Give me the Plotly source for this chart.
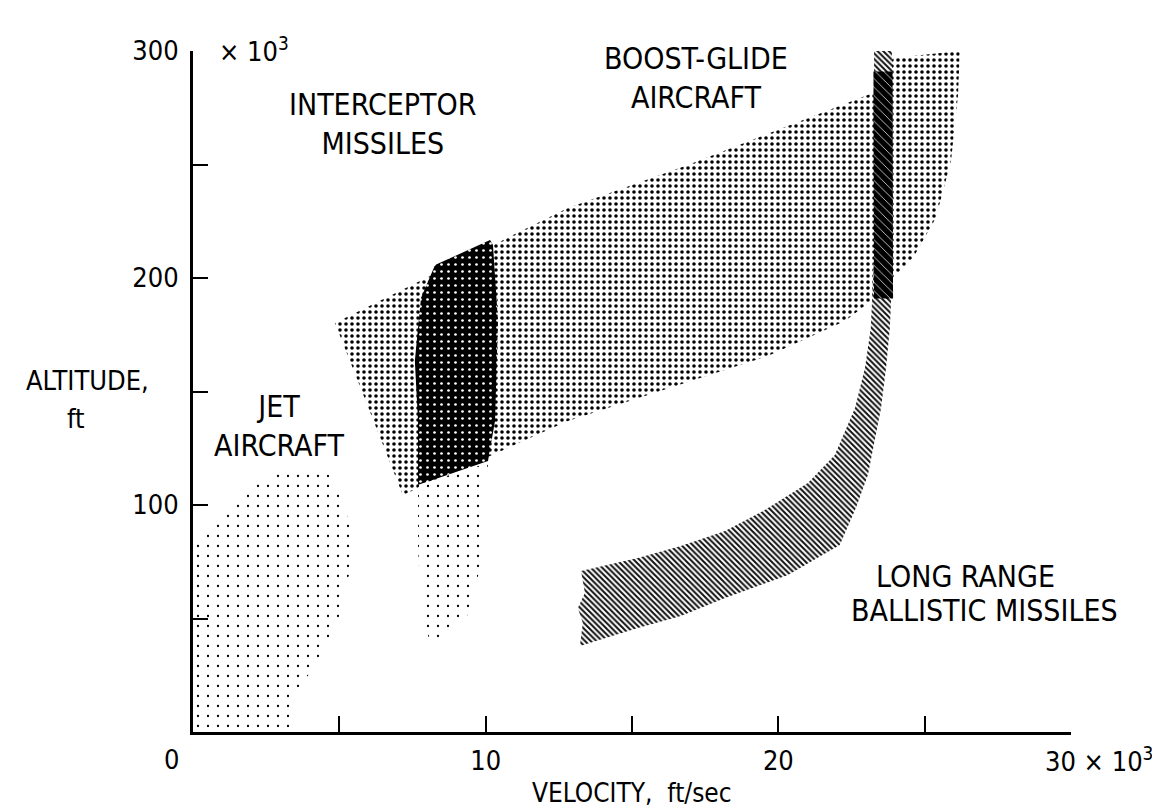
import plotly.graph_objects as go

# ---------------- data (velocity in 10^3 ft/s, altitude in 10^3 ft) ----------------
boost_glide_vel = [4.85, 12.81, 16.91, 23.23, 23.92, 26.20, 26.14, 25.90, 25.38, 24.60, 23.74, 23.30, 22.28, 19.64, 12.81, 7.17, 4.85]
boost_glide_alt = [180.2, 230.8, 249.8, 281.5, 296.9, 300.0, 280.6, 251.5, 226.4, 208.8, 197.8, 191.2, 181.1, 165.6, 137.0, 104.4, 180.2]

ballistic_vel = [13.26, 15.20, 16.67, 18.18, 19.54, 21.01, 21.93, 22.62, 22.96, 23.16, 23.27, 23.27, 23.88, 23.92, 23.81, 23.68, 23.51, 23.06, 22.65, 22.10, 20.33, 18.18, 16.67, 15.20, 13.22, 13.32, 13.15, 13.39, 13.26]
ballistic_alt = [70.9, 76.7, 81.9, 88.5, 97.8, 109.7, 122.0, 142.7, 160.4, 178.0, 208.8, 300.0, 300.0, 208.8, 178.0, 160.4, 142.7, 113.2, 98.7, 82.4, 69.2, 59.0, 51.1, 45.8, 37.9, 48.0, 54.6, 61.2, 70.9]

overlap_vel = [23.25, 23.90, 23.92, 23.27, 23.25]
overlap_alt = [291.0, 291.0, 191.0, 191.0, 291.0]

interceptor_core_vel = [10.15, 8.27, 7.79, 7.58, 7.69, 7.69, 10.08, 10.32, 10.42, 10.25, 10.15]
interceptor_core_alt = [216.7, 205.7, 191.2, 163.4, 137.0, 108.8, 119.4, 137.0, 181.1, 214.5, 216.7]

interceptor_low_vel = [7.69, 10.08, 10.01, 9.91, 9.46, 8.71, 8.10, 7.79, 7.69, 7.69]
interceptor_low_alt = [108.8, 118.5, 107.5, 78.9, 52.4, 43.6, 39.2, 54.6, 81.1, 108.8]

jet_vel = [0.0, 0.0, 0.51, 1.88, 2.90, 4.03, 4.68, 5.19, 5.40, 5.36, 4.95, 4.27, 3.59, 3.35, 0.0]
jet_alt = [0.0, 81.0, 88.5, 107.5, 114.1, 115.4, 113.2, 100.0, 86.8, 70.9, 48.9, 30.4, 19.4, 0.0, 0.0]

x_tickvals = [10, 20]
x_ticktext = ["10", "20"]
x_minor_ticks = [5, 15, 25, 30]
y_tickvals = [100, 200, 300]
y_ticktext = ["100", "200", "300"]
y_minor_ticks = [50, 150, 250]

labels = [
    ("INTERCEPTOR<br>MISSILES", 6.5, 268.0),
    ("BOOST-GLIDE<br>AIRCRAFT", 17.18, 288.1),
    ("JET<br>AIRCRAFT", 2.97, 135.0),
    ("LONG RANGE", 26.41, 68.7),
    ("BALLISTIC MISSILES", 27.06, 53.7),
]

FONT = "Liberation Sans Narrow, DejaVu Sans Condensed, Roboto Condensed, Arial Narrow, sans-serif"

fig = go.Figure()


def region(xs, ys, pattern):
    fig.add_trace(go.Scatter(
        x=xs, y=ys, mode="lines", fill="toself",
        line=dict(width=0, color="rgba(0,0,0,0)"),
        fillcolor=pattern.get("bgcolor", "white"),
        fillpattern=pattern,
        hoverinfo="skip", showlegend=False,
    ))


region(boost_glide_vel, boost_glide_alt,
       dict(shape=".", size=6, solidity=0.28, fgcolor="black", bgcolor="white", fillmode="replace"))
region(ballistic_vel, ballistic_alt,
       dict(shape="\\", size=4, solidity=0.5, fgcolor="#111111", bgcolor="white", fillmode="replace"))
region(overlap_vel, overlap_alt,
       dict(shape="\\", size=6, solidity=0.12, fgcolor="white", bgcolor="black", fillmode="replace"))
region(interceptor_core_vel, interceptor_core_alt,
       dict(shape=".", size=7, solidity=0.12, fgcolor="white", bgcolor="black", fillmode="replace"))
region(interceptor_low_vel, interceptor_low_alt,
       dict(shape=".", size=10, solidity=0.04, fgcolor="black", bgcolor="white", fillmode="replace"))
region(jet_vel, jet_alt,
       dict(shape=".", size=10, solidity=0.04, fgcolor="black", bgcolor="white", fillmode="replace"))

for text, vx, vy in labels:
    fig.add_annotation(x=vx, y=vy, xref="x", yref="y", text=text, showarrow=False,
                       xanchor="center", yanchor="middle",
                       font=dict(family=FONT, size=30, color="black"), align="center")

# axis-related text
fig.add_annotation(x=0, y=0, xref="x", yref="y", text="0", showarrow=False,
                   xanchor="center", yanchor="middle",
                   xshift=-22, yshift=-27, font=dict(family=FONT, size=27, color="black"))
fig.add_annotation(x=30, y=0, xref="x", yref="y", text="30 × 10<sup>3</sup>", showarrow=False,
                   xanchor="right", yanchor="middle", xshift=84, yshift=-27,
                   font=dict(family=FONT, size=27, color="black"))
fig.add_annotation(x=0, y=300, xref="x", yref="y", text="× 10<sup>3</sup>", showarrow=False,
                   xanchor="left", yanchor="middle", xshift=24, yshift=2,
                   font=dict(family=FONT, size=27, color="black"))
fig.add_annotation(x=-0.1196, y=155, xref="paper", yref="y", text="ALTITUDE,", showarrow=False,
                   xanchor="center", yanchor="middle",
                   font=dict(family=FONT, size=27, color="black"))
fig.add_annotation(x=-0.133, y=138, xref="paper", yref="y", text="ft", showarrow=False,
                   xanchor="center", yanchor="middle",
                   font=dict(family=FONT, size=27, color="black"))
fig.add_annotation(x=15.0, y=0, xref="x", yref="y", text="VELOCITY,  ft/sec", showarrow=False,
                   xanchor="center", yanchor="middle",
                   yshift=-61, font=dict(family=FONT, size=26, color="black"))

fig.update_xaxes(range=[0, 30], tickvals=x_tickvals, ticktext=x_ticktext,
                 ticks="inside", ticklen=16, tickwidth=2, tickcolor="black",
                 minor=dict(tickvals=x_minor_ticks, ticks="inside", ticklen=16, tickwidth=2,
                            tickcolor="black", showgrid=False),
                 showline=True, linecolor="black", linewidth=3,
                 showgrid=False, zeroline=False, ticklabelstandoff=3,
                 tickfont=dict(family=FONT, size=27, color="black"))
fig.update_yaxes(range=[0, 300], tickvals=y_tickvals, ticktext=y_ticktext,
                 ticks="inside", ticklen=15, tickwidth=2, tickcolor="black",
                 minor=dict(tickvals=y_minor_ticks, ticks="inside", ticklen=15, tickwidth=2,
                            tickcolor="black", showgrid=False),
                 showline=True, linecolor="black", linewidth=3,
                 showgrid=False, zeroline=False, ticklabelstandoff=6,
                 tickfont=dict(family=FONT, size=27, color="black"))

fig.update_layout(
    width=1160, height=809,
    margin=dict(l=185, r=97, t=43, b=85),
    plot_bgcolor="white", paper_bgcolor="white",
    font=dict(family=FONT, color="black"),
    showlegend=False,
)

fig.write_html("out.html")
